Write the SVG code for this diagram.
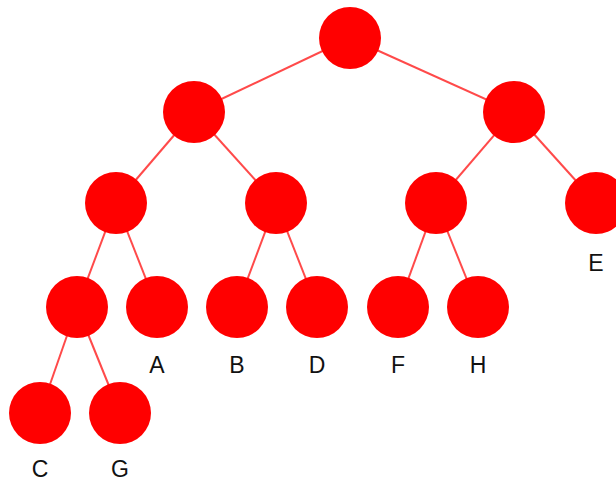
<svg xmlns="http://www.w3.org/2000/svg" width="616" height="482" viewBox="0 0 616 482">
  <style>
    .edge { stroke: #ff4a4a; stroke-width: 2; fill: none; }
    .node circle { fill: #ff0000; }
    .label { font-family: "Liberation Sans", Arial, sans-serif; font-size: 23px; fill: #111; text-anchor: middle; }
  </style>
  <rect width="616" height="482" fill="#ffffff"/>
  <g id="edges">
    <line class="edge" x1="350" y1="38" x2="194" y2="112"/>
    <line class="edge" x1="350" y1="38" x2="514" y2="112"/>
    <line class="edge" x1="194" y1="112" x2="116" y2="203"/>
    <line class="edge" x1="194" y1="112" x2="276" y2="203"/>
    <line class="edge" x1="514" y1="112" x2="436" y2="203"/>
    <line class="edge" x1="514" y1="112" x2="596" y2="203"/>
    <line class="edge" x1="116" y1="203" x2="77" y2="307"/>
    <line class="edge" x1="116" y1="203" x2="157" y2="307"/>
    <line class="edge" x1="276" y1="203" x2="237" y2="307"/>
    <line class="edge" x1="276" y1="203" x2="317" y2="307"/>
    <line class="edge" x1="436" y1="203" x2="398" y2="307"/>
    <line class="edge" x1="436" y1="203" x2="478" y2="307"/>
    <line class="edge" x1="77" y1="307" x2="40" y2="413"/>
    <line class="edge" x1="77" y1="307" x2="120" y2="413"/>
  </g>
  <g id="n-root" class="node"><circle cx="350" cy="38" r="31"/></g>
  <g id="n-l" class="node"><circle cx="194" cy="112" r="31"/></g>
  <g id="n-r" class="node"><circle cx="514" cy="112" r="31"/></g>
  <g id="n-ll" class="node"><circle cx="116" cy="203" r="31"/></g>
  <g id="n-lr" class="node"><circle cx="276" cy="203" r="31"/></g>
  <g id="n-rl" class="node"><circle cx="436" cy="203" r="31"/></g>
  <g id="n-E" class="node"><circle cx="596" cy="203" r="31"/><text class="label" x="596" y="271">E</text></g>
  <g id="n-lll" class="node"><circle cx="77" cy="307" r="31"/></g>
  <g id="n-A" class="node"><circle cx="157" cy="307" r="31"/><text class="label" x="157" y="373">A</text></g>
  <g id="n-B" class="node"><circle cx="237" cy="307" r="31"/><text class="label" x="237" y="373">B</text></g>
  <g id="n-D" class="node"><circle cx="317" cy="307" r="31"/><text class="label" x="317" y="373">D</text></g>
  <g id="n-F" class="node"><circle cx="398" cy="307" r="31"/><text class="label" x="398" y="373">F</text></g>
  <g id="n-H" class="node"><circle cx="478" cy="307" r="31"/><text class="label" x="478" y="373">H</text></g>
  <g id="n-C" class="node"><circle cx="40" cy="413" r="31"/><text class="label" x="40" y="477">C</text></g>
  <g id="n-G" class="node"><circle cx="120" cy="413" r="31"/><text class="label" x="120" y="477">G</text></g>
</svg>
